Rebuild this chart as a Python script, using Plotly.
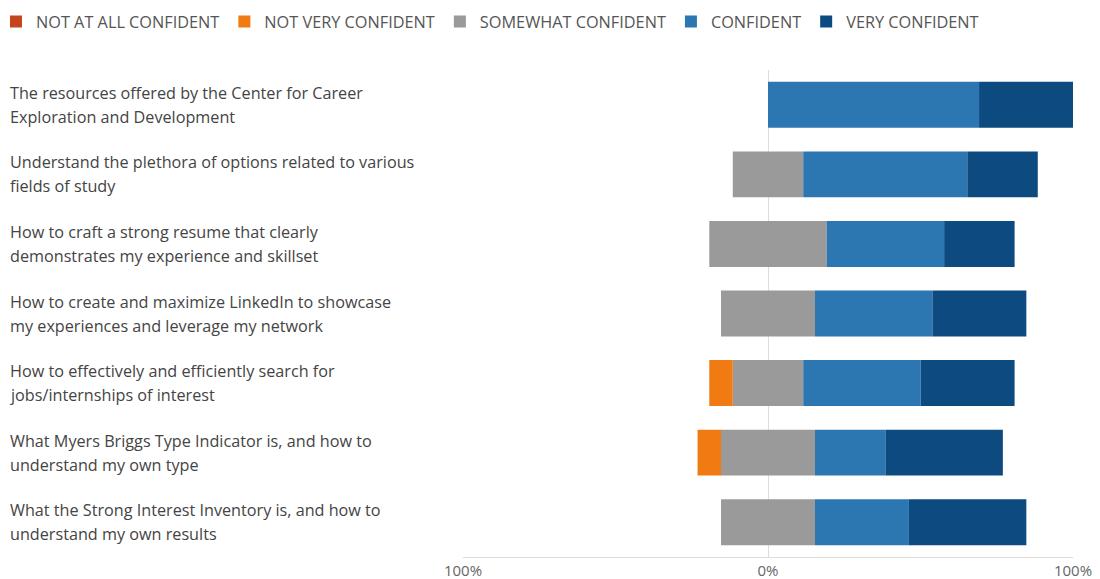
import plotly.graph_objects as go

categories = [
    "The resources offered by the Center for Career<br>Exploration and Development",
    "Understand the plethora of options related to various<br>fields of study",
    "How to craft a strong resume that clearly<br>demonstrates my experience and skillset",
    "How to create and maximize LinkedIn to showcase<br>my experiences and leverage my network",
    "How to effectively and efficiently search for<br>jobs/internships of interest",
    "What Myers Briggs Type Indicator is, and how to<br>understand my own type",
    "What the Strong Interest Inventory is, and how to<br>understand my own results",
]
not_at_all = [0, 0, 0, 0, 0, 0, 0]
not_very = [0, 0, 0, 0, 7.7, 7.7, 0]
somewhat = [0, 23.1, 38.5, 30.8, 23.1, 30.8, 30.8]
confident = [69.2, 53.8, 38.5, 38.5, 38.5, 23.1, 30.8]
very = [30.8, 23.1, 23.1, 30.8, 30.8, 38.5, 38.5]

series_names = ["NOT AT ALL CONFIDENT", "NOT VERY CONFIDENT", "SOMEWHAT CONFIDENT",
                "CONFIDENT", "VERY CONFIDENT"]
colors = ["#C4441C", "#F07B12", "#9A9A9A", "#2C77B1", "#0C4A80"]
tick_vals = [-100, 0, 100]
tick_text = ["100%", "0%", "100%"]

FONT = "Open Sans, Noto Sans, sans-serif"
fig = go.Figure()

def add(x, idx, show, rank):
    fig.add_trace(go.Bar(
        y=categories, x=x, orientation="h", name=series_names[idx],
        marker=dict(color=colors[idx], line=dict(width=0)),
        legendgroup=series_names[idx], showlegend=show, legendrank=rank,
    ))

# negative side (stacked outward from zero)
add([-s / 2 for s in somewhat], 2, False, 3)
add([-v for v in not_very], 1, True, 2)
add([-v for v in not_at_all], 0, True, 1)
# positive side
add([s / 2 for s in somewhat], 2, True, 3)
add(confident, 3, True, 4)
add(very, 4, True, 5)

# left-aligned two-line category labels
for cat in categories:
    lines = cat.split("<br>")
    n = len(lines)
    for i, ln in enumerate(lines):
        fig.add_annotation(
            x=0, xref="paper", xshift=-455, xanchor="left",
            y=cat, yref="y", yshift=12 * (n - 1) - 24 * i, yanchor="middle",
            text=ln, showarrow=False,
            font=dict(family=FONT, size=16.2, color="#444444"),
        )

# page body adds an 8px margin, so the figure is sized to fit the window
fig.update_layout(
    width=1092, height=571,
    barmode="relative", bargap=0.34,
    plot_bgcolor="white", paper_bgcolor="white",
    margin=dict(l=455, r=27, t=62, b=22, autoexpand=False),
    font=dict(family=FONT, size=14, color="#555555"),
    legend=dict(
        orientation="h", xref="paper", yref="paper",
        x=-0.7656, y=1.063, xanchor="left", yanchor="bottom",
        font=dict(family=FONT, size=16.3, color="#555555"),
        traceorder="normal", itemclick=False, itemwidth=30,
    ),
    showlegend=True,
)
fig.update_xaxes(
    range=[-100, 100], tickvals=tick_vals, ticktext=tick_text,
    showgrid=True, gridcolor="#DDDDDD", gridwidth=1,
    zeroline=False, showline=True, linecolor="#DDDDDD", mirror=False,
    layer="above traces", tickfont=dict(family=FONT, size=15, color="#666666"),
    ticklabelstandoff=0, fixedrange=True,
)
fig.update_yaxes(
    categoryorder="array", categoryarray=categories, autorange="reversed",
    showticklabels=False, showgrid=False, zeroline=False, showline=False,
    fixedrange=True,
)

fig.write_html("out.html")
